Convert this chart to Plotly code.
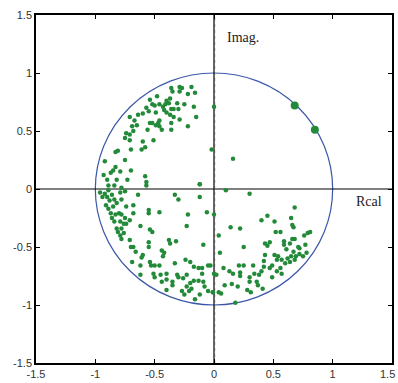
import plotly.graph_objects as go

# Estimated pole positions (real, imaginary)
re_vals = [
    -0.36,-0.29,-0.27,-0.29,-0.19,-0.16,-0.22,-0.35,-0.37,-0.40,-0.38,-0.48,-0.54,-0.52,-0.50,-0.46,-0.43,-0.41,-0.31,-0.25,
    -0.17,-0.30,-0.36,-0.37,-0.34,-0.29,-0.36,-0.36,-0.22,-0.15,-0.57,-0.55,-0.60,-0.64,-0.67,-0.65,-0.69,-0.68,-0.74,-0.75,
    -0.71,-0.71,-0.54,-0.52,-0.49,-0.47,-0.46,-0.44,-0.46,-0.56,-0.60,-0.51,-0.61,-0.58,-0.70,-0.83,-0.81,-0.75,-0.92,-0.83,
    -0.85,-0.87,-0.93,-0.79,-0.73,-0.70,-0.82,-0.90,-0.89,-0.84,-0.78,-0.58,-0.57,-0.57,-0.12,-0.02,-0.71,-0.34,-0.49,-0.40,
    -0.42,0.00,0.16,0.10,0.30,-0.12,
    -0.96,-0.94,-0.90,-0.92,-0.89,-0.86,-0.84,-0.88,-0.91,-0.89,-0.85,-0.82,-0.78,-0.79,-0.75,-0.87,-0.83,-0.80,-0.78,-0.86,
    -0.84,-0.79,-0.82,-0.78,-0.76,-0.75,-0.71,-0.74,-0.79,-0.78,-0.81,-0.76,-0.68,-0.68,-0.64,-0.74,-0.62,-0.71,-0.68,-0.70,
    -0.66,-0.60,-0.61,-0.69,-0.62,-0.55,-0.55,-0.54,-0.52,-0.55,-0.55,-0.46,-0.38,-0.37,-0.32,-0.44,-0.42,-0.43,-0.54,-0.53,
    -0.50,-0.46,-0.62,-0.51,-0.50,-0.45,-0.40,-0.44,-0.40,-0.35,-0.35,-0.40,-0.33,-0.31,-0.30,-0.26,-0.23,-0.24,-0.20,-0.17,
    -0.13,-0.10,-0.05,-0.10,-0.13,-0.09,-0.17,-0.20,-0.23,-0.27,-0.25,-0.21,-0.19,-0.12,-0.08,-0.05,-0.16,-0.01,-0.33,-0.30,
    -0.12,-0.06,-0.22,-0.23,-0.09,
    0.00,0.04,0.05,0.14,0.22,0.25,0.40,0.45,0.51,0.68,0.65,0.66,0.67,0.52,0.56,0.59,0.59,0.61,0.66,0.68,
    0.64,0.71,0.67,0.69,0.65,0.64,0.62,0.60,0.57,0.54,0.53,0.51,0.56,0.53,0.57,0.49,0.47,0.49,0.43,0.45,
    0.47,0.43,0.42,0.42,0.40,0.38,0.34,0.36,0.37,0.41,0.30,0.30,0.28,0.31,0.22,0.22,0.21,0.25,0.33,0.13,
    0.16,0.08,0.02,0.09,0.15,0.20,0.04,0.06,-0.01,0.18,0.76,0.79,0.81,0.77,0.78,0.75,0.72,0.72,0.68,-0.03,
    0.00,
]
im_vals = [
    0.87,0.88,0.87,0.84,0.88,0.83,0.82,0.84,0.78,0.76,0.74,0.80,0.77,0.73,0.72,0.73,0.71,0.73,0.74,0.73,
    0.71,0.69,0.69,0.64,0.62,0.60,0.57,0.51,0.54,0.62,0.70,0.67,0.65,0.64,0.59,0.55,0.54,0.50,0.48,0.44,
    0.42,0.62,0.57,0.57,0.55,0.57,0.54,0.51,0.59,0.51,0.41,0.42,0.34,0.36,0.34,0.32,0.33,0.25,0.24,0.19,
    0.16,0.14,0.12,0.15,0.08,0.16,0.08,0.08,0.03,0.03,0.01,0.11,0.06,0.03,0.04,0.34,0.47,0.69,0.66,0.66,
    0.68,0.71,0.26,-0.01,-0.04,0.04,
    -0.03,-0.07,-0.07,-0.04,-0.01,-0.05,-0.09,-0.10,-0.14,-0.17,-0.15,-0.12,-0.09,-0.03,-0.02,-0.21,-0.22,-0.21,-0.22,-0.25,
    -0.28,-0.28,-0.34,-0.34,-0.30,-0.25,-0.27,-0.30,-0.40,-0.43,-0.37,-0.38,-0.21,-0.14,-0.05,-0.15,-0.32,-0.44,-0.50,-0.50,
    -0.54,-0.57,-0.59,-0.63,-0.66,-0.18,-0.21,-0.35,-0.37,-0.46,-0.50,-0.20,-0.44,-0.47,-0.45,-0.53,-0.55,-0.58,-0.63,-0.66,
    -0.66,-0.66,-0.74,-0.73,-0.76,-0.74,-0.73,-0.80,-0.78,-0.80,-0.83,-0.87,-0.64,-0.74,-0.76,-0.77,-0.74,-0.61,-0.63,-0.67,
    -0.68,-0.68,-0.66,-0.73,-0.79,-0.80,-0.79,-0.81,-0.84,-0.88,-0.91,-0.88,-0.86,-0.91,-0.84,-0.88,-0.95,-0.89,-0.05,-0.09,
    -0.07,-0.20,-0.22,-0.32,-0.48,
    -0.22,-0.40,-0.55,-0.33,-0.34,-0.50,-0.27,-0.23,-0.28,-0.16,-0.25,-0.31,-0.33,-0.37,-0.37,-0.45,-0.48,-0.52,-0.43,-0.43,
    -0.47,-0.50,-0.54,-0.58,-0.58,-0.63,-0.60,-0.64,-0.61,-0.58,-0.61,-0.57,-0.68,-0.71,-0.73,-0.66,-0.68,-0.76,-0.47,-0.49,
    -0.46,-0.57,-0.62,-0.67,-0.71,-0.74,-0.73,-0.80,-0.83,-0.86,-0.76,-0.80,-0.87,-0.89,-0.72,-0.75,-0.66,-0.66,-0.66,-0.71,
    -0.73,-0.68,-0.74,-0.83,-0.82,-0.84,-0.89,-0.90,-0.89,-0.98,-0.40,-0.38,-0.37,-0.48,-0.55,-0.58,-0.51,-0.56,-0.61,-0.66,
    -0.73,
]
big_re = [0.68, 0.85]
big_im = [0.72, 0.51]

tick_vals = [-1.5, -1, -0.5, 0, 0.5, 1, 1.5]
tick_text = ["-1.5", "-1", "-0.5", "0", "0.5", "1", "1.5"]

green = "#238a3a"
tick_font = dict(family="Liberation Sans", size=11, color="#333")

fig = go.Figure()
fig.add_trace(go.Scatter(x=re_vals, y=im_vals, mode="markers",
                         marker=dict(size=4.5, color=green), showlegend=False, hoverinfo="skip"))
fig.add_trace(go.Scatter(x=big_re, y=big_im, mode="markers",
                         marker=dict(size=8, color=green), showlegend=False, hoverinfo="skip"))

# unit circle and axes
fig.add_shape(type="circle", xref="x", yref="y", x0=-1, y0=-1, x1=1, y1=1,
              line=dict(color="#3b57a6", width=1.2), layer="below")
fig.add_shape(type="line", xref="x", yref="y", x0=-1.5, x1=1.5, y0=0, y1=0,
              line=dict(color="black", width=1.2), layer="below")
fig.add_shape(type="line", xref="x", yref="y", x0=0.008, x1=0.008, y0=-1.5, y1=1.5,
              line=dict(color="#c8b0b8", width=0.8, dash="dot"), layer="below")
fig.add_shape(type="line", xref="x", yref="y", x0=0, x1=0, y0=-1.5, y1=1.5,
              line=dict(color="black", width=1.2), layer="below")

fig.add_annotation(x=0.09, y=1.31, text="Imag.", showarrow=False, xanchor="left", yanchor="middle",
                   font=dict(family="Liberation Serif", size=14, color="#222"))
fig.add_annotation(x=1.18, y=-0.11, text="Rcal", showarrow=False, xanchor="left", yanchor="middle",
                   font=dict(family="Liberation Serif", size=14, color="#222"))
# last x tick label, kept inside the page
fig.add_annotation(x=tick_vals[-1], y=0, xref="x", yref="paper", text=tick_text[-1], showarrow=False,
                   xanchor="right", yanchor="top", xshift=5, yshift=-3, font=tick_font)

axis_common = dict(tickmode="array", tickvals=tick_vals, automargin=False,
                   showgrid=False, zeroline=False, showline=True, linecolor="black", linewidth=1.5,
                   mirror="ticks", ticks="inside", ticklen=4, tickcolor="black",
                   tickfont=tick_font)
fig.update_xaxes(range=[-1.5, 1.5], ticktext=tick_text[:-1] + [""], **axis_common)
fig.update_yaxes(range=[-1.5, 1.5], ticktext=tick_text, **axis_common)

fig.update_layout(width=398, height=383, margin=dict(l=36, r=6, t=15, b=20),
                  plot_bgcolor="white", paper_bgcolor="white")

fig.write_html("out.html", config={"displayModeBar": False},
               post_script="document.body.style.margin='0';document.body.style.overflow='hidden';")
